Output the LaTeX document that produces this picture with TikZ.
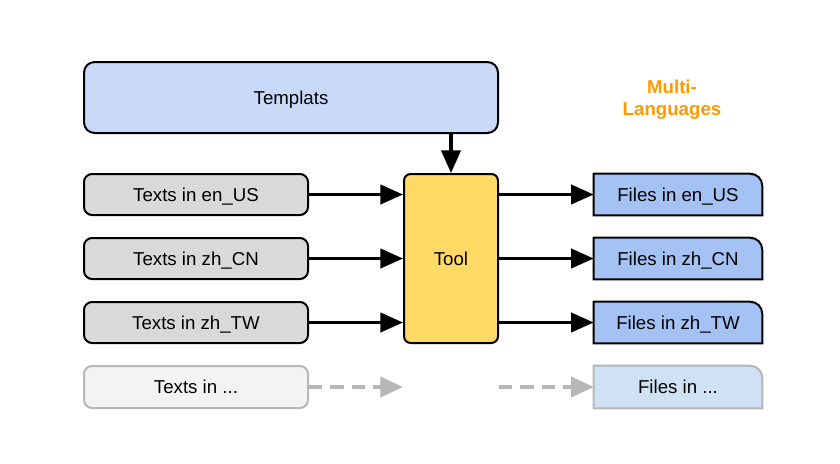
\documentclass[tikz,border=0pt]{standalone}
\usepackage{fontspec}
\setmainfont{Liberation Sans}
\usetikzlibrary{arrows.meta,backgrounds}
\definecolor{tplblue}{HTML}{C9DAF8}
\definecolor{toolyel}{HTML}{FFD966}
\definecolor{txtgray}{HTML}{D9D9D9}
\definecolor{fileblue}{HTML}{A4C2F4}
\definecolor{fadegray}{HTML}{F3F3F3}
\definecolor{fadeblue}{HTML}{CFE2F3}
\definecolor{fadeline}{HTML}{B7B7B7}
\definecolor{orangeT}{HTML}{FF9900}
\tikzset{
  box/.style={rectangle, rounded corners=6pt, draw=black, line width=1.5pt, font=\fontsize{14}{16}\selectfont, inner sep=0pt, text height=10pt, text depth=0pt},
  textbox/.style={box, fill=txtgray, minimum width=168pt, minimum height=30.75pt},
  fadetext/.style={box, fill=fadegray, draw=fadeline, minimum width=168pt, minimum height=31.5pt},
  filebox/.style={rectangle, font=\fontsize{14}{16}\selectfont, inner sep=0pt, text height=10pt, text depth=0pt, minimum width=126pt, minimum height=30.75pt},
  fileshape/.style={line width=1.5pt, draw=black, fill=fileblue},
  arr/.style={line width=2.3pt, -{Triangle[length=17pt,width=14.5pt]}},
  fadearr/.style={line width=3pt, draw=fadeline, dash pattern=on 10pt off 6pt, -{Triangle[length=17pt,width=15pt,fill=fadeline]}},
}
\begin{document}
\begin{tikzpicture}[x=0.75pt,y=-0.75pt]
\useasboundingbox (0,0) rectangle (840,464);
\node[box, fill=tplblue, rounded corners=8pt, minimum width=310.5pt, minimum height=53.25pt] (tpl) at (291,97.5) {Templats};
\node[box, fill=toolyel, rounded corners=5pt, minimum width=70.5pt, minimum height=126.75pt] (tool) at (451,258.5) {Tool};
\node[textbox] (t1) at (196,194.5) {Texts in en\_US};
\node[textbox] (t2) at (196,258.5) {Texts in zh\_CN};
\node[textbox] (t3) at (196,322.5) {Texts in zh\_TW};
\node[fadetext] (t4) at (196,387) {Texts in ...};
\node[filebox] (f1) at (678,194.5) {Files in en\_US};
\node[filebox] (f2) at (678,258.5) {Files in zh\_CN};
\node[filebox] (f3) at (678,322.5) {Files in zh\_TW};
\node[filebox, minimum height=31.5pt] (f4) at (678,387) {Files in ...};
\begin{scope}[on background layer]
\foreach \f/\c/\d in {f1/fileblue/black,f2/fileblue/black,f3/fileblue/black,f4/fadeblue/fadeline}{
  \draw[fileshape, fill=\c, draw=\d] (\f.south west) -- (\f.north west) -- ([xshift=-9pt]\f.north east) arc[start angle=90,end angle=0,radius=9pt] -- (\f.south east) -- cycle;
}
\end{scope}
\node[font=\bfseries\fontsize{14}{16.5}\selectfont, text=orangeT, align=center] (ml) at (672,100) {Multi-\\Languages};
\draw[arr] (tpl.south -| tool.north) -- (tool.north);
\draw[arr] (t1.east) -- (t1.east -| tool.west);
\draw[arr] (t2.east) -- (t2.east -| tool.west);
\draw[arr] (t3.east) -- (t3.east -| tool.west);
\draw[arr] (f1.west -| tool.east) -- (f1.west);
\draw[arr] (f2.west -| tool.east) -- (f2.west);
\draw[arr] (f3.west -| tool.east) -- (f3.west);
\draw[fadearr] (t4.east) -- (t4.east -| tool.west);
\draw[fadearr] (f4.west -| tool.east) -- (f4.west);
\end{tikzpicture}
\end{document}
